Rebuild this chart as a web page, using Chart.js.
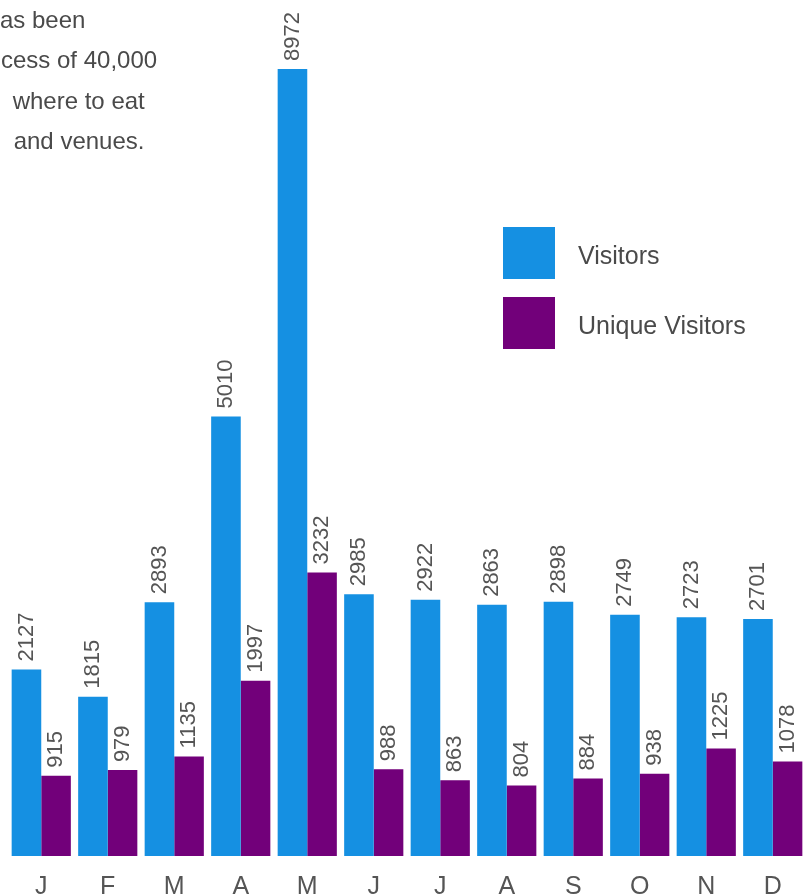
<!DOCTYPE html>
<html>
<head>
<meta charset="utf-8">
<script src="https://cdn.jsdelivr.net/npm/chart.js@4/dist/chart.umd.min.js"></script>
<style>
  html, body { margin: 0; padding: 0; background: #fff; }
  #wrap { position: relative; width: 807px; height: 894px; overflow: hidden; }
  canvas { display: block; }
</style>
</head>
<body>
<div id="wrap"><canvas id="c" width="807" height="918"></canvas></div>
<script>
const months = ["J","F","M","A","M","J","J","A","S","O","N","D"];
const visitors = [2127,1815,2893,5010,8972,2985,2922,2863,2898,2749,2723,2701];
const uniqueVisitors = [915,979,1135,1997,3232,988,863,804,884,938,1225,1078];
const seriesNames = ["Visitors","Unique Visitors"];
const seriesColors = ["#1590e2","#72007a"];
const introLines = [
  {text: "as been", x: 0, y: 28},
  {text: "cess of 40,000", x: 1, y: 68},
  {text: " where to eat", x: 6, y: 109},
  {text: " and venues.", x: 7, y: 149}
];

const FONT = '"Liberation Sans", Arial, Helvetica, sans-serif';

const introPlugin = {
  id: 'intro',
  afterDraw(chart) {
    const ctx = chart.ctx;
    ctx.save();
    ctx.font = '24px ' + FONT;
    ctx.fillStyle = '#4a4a4a';
    ctx.textAlign = 'left';
    ctx.textBaseline = 'alphabetic';
    introLines.forEach(l => ctx.fillText(l.text, l.x, l.y));
    ctx.restore();
  }
};

const valueLabels = {
  id: 'valueLabels',
  afterDatasetsDraw(chart) {
    const ctx = chart.ctx;
    ctx.save();
    ctx.font = '22px ' + FONT;
    ctx.fillStyle = '#555';
    ctx.textAlign = 'left';
    ctx.textBaseline = 'middle';
    chart.data.datasets.forEach((ds, di) => {
      const meta = chart.getDatasetMeta(di);
      meta.data.forEach((el, i) => {
        ctx.save();
        ctx.translate(el.x, el.y - 8);
        ctx.rotate(-Math.PI / 2);
        ctx.fillText(String(ds.data[i]), 0, 0);
        ctx.restore();
      });
    });
    ctx.restore();
  }
};

const customLegend = {
  id: 'customLegend',
  afterDraw(chart) {
    const ctx = chart.ctx;
    ctx.save();
    chart.data.datasets.forEach((ds, i) => {
      const y = 227 + i * 70;
      ctx.fillStyle = ds.backgroundColor;
      ctx.fillRect(503, y, 52, 52);
      ctx.font = '25px ' + FONT;
      ctx.fillStyle = '#4a4a4a';
      ctx.textAlign = 'left';
      ctx.textBaseline = 'middle';
      ctx.fillText(ds.label, 578, y + 30);
    });
    ctx.restore();
  }
};

new Chart(document.getElementById('c'), {
  type: 'bar',
  data: {
    labels: months,
    datasets: [
      { label: seriesNames[0], data: visitors, backgroundColor: seriesColors[0], borderWidth: 0 },
      { label: seriesNames[1], data: uniqueVisitors, backgroundColor: seriesColors[1], borderWidth: 0 }
    ]
  },
  options: {
    responsive: false,
    animation: false,
    devicePixelRatio: 1,
    layout: { padding: { left: 8, right: 1, top: 0, bottom: 0 } },
    plugins: { legend: { display: false }, tooltip: { enabled: false } },
    datasets: { bar: { categoryPercentage: 0.89, barPercentage: 1.0 } },
    scales: {
      x: {
        grid: { display: false, drawTicks: false },
        border: { display: false },
        ticks: { color: '#555', font: { family: FONT, size: 25 }, padding: 16 }
      },
      y: {
        display: false,
        min: 0,
        max: 9758
      }
    }
  },
  plugins: [introPlugin, valueLabels, customLegend]
});
</script>
</body>
</html>
